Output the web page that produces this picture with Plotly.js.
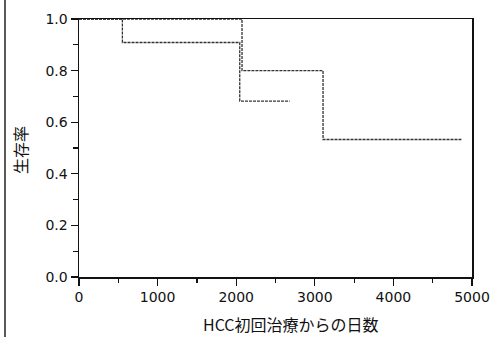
<!DOCTYPE html>
<html>
<head>
<meta charset="utf-8">
<script src="https://cdn.plot.ly/plotly-3.0.1.min.js"></script>
<style>html,body{margin:0;padding:0;background:#fff;}#chart{width:491px;height:337px;}</style>
</head>
<body>
<div id="chart"></div>
<script>
// Kaplan-Meier step curves (event times in days, survival after each step)
const groupA_days = [0, 552, 2045, 2680];
const groupA_surv = [1.0, 0.909, 0.682, 0.682];
const groupB_days = [0, 2074, 3105, 4865];
const groupB_surv = [1.0, 0.800, 0.533, 0.533];

const xTickVals = [0, 1000, 2000, 3000, 4000, 5000];
const yTickVals = [0.0, 0.2, 0.4, 0.6, 0.8, 1.0];
const xTitle = 'HCC初回治療からの日数';
const yTitle = '生存率';

const W = 491, H = 337;
const mL = 79, mR = 19, mT = 19, mB = 60;
const pw = W - mL - mR, ph = H - mT - mB;
const px = v => (v - mL) / pw;
const py = v => (H - mB - v) / ph;

const lineStyle = {color: '#333', width: 1.3, dash: '3px,1px', shape: 'hv'};

const traces = [
  {x: groupA_days, y: groupA_surv, mode: 'lines', line: lineStyle, hoverinfo: 'none'},
  {x: groupB_days, y: groupB_surv, mode: 'lines', line: lineStyle, hoverinfo: 'none'}
];

const tickFont = {family: 'DejaVu Sans, Verdana, sans-serif', size: 14, color: '#111'};
const cjk = 'Noto Sans CJK JP, sans-serif';

const layout = {
  width: W, height: H,
  margin: {l: mL, r: mR, t: mT, b: mB, pad: 0},
  paper_bgcolor: '#fff', plot_bgcolor: '#fff',
  showlegend: false,
  xaxis: {
    range: [0, 5000], tickvals: xTickVals, ticktext: xTickVals.map(String),
    ticks: 'outside', ticklen: 7, tickwidth: 1.2, tickcolor: '#111',
    minor: {dtick: 500, tick0: 0, ticks: 'outside', ticklen: 4, tickwidth: 1.2, tickcolor: '#111'},
    showline: true, linecolor: '#111', linewidth: 1.5, mirror: true,
    showgrid: false, zeroline: false, tickfont: tickFont, fixedrange: true
  },
  yaxis: {
    range: [0, 1.0], tickvals: yTickVals, ticktext: yTickVals.map(v => v.toFixed(1)),
    ticks: 'outside', ticklen: 7, tickwidth: 1.2, tickcolor: '#111',
    minor: {dtick: 0.1, tick0: 0, ticks: 'outside', ticklen: 5, tickwidth: 1.2, tickcolor: '#111'},
    showline: true, linecolor: '#111', linewidth: 1.5, mirror: true,
    showgrid: false, zeroline: false, tickfont: tickFont, fixedrange: true
  },
  annotations: [
    {text: xTitle, xref: 'paper', yref: 'paper', x: px(291), y: py(324), xanchor: 'center', yanchor: 'middle',
     showarrow: false, font: {family: cjk, size: 16, color: '#111'}},
    {text: yTitle, xref: 'paper', yref: 'paper', x: px(20), y: py(150), xanchor: 'center', yanchor: 'middle',
     textangle: -90, showarrow: false, font: {family: cjk, size: 16, color: '#111'}}
  ],
  shapes: [
    {type: 'line', xref: 'paper', yref: 'paper', x0: px(5), x1: px(5), y0: py(337), y1: py(0),
     line: {color: '#222', width: 1.5}}
  ]
};

Plotly.newPlot('chart', traces, layout, {staticPlot: true, displayModeBar: false});
</script>
</body>
</html>
